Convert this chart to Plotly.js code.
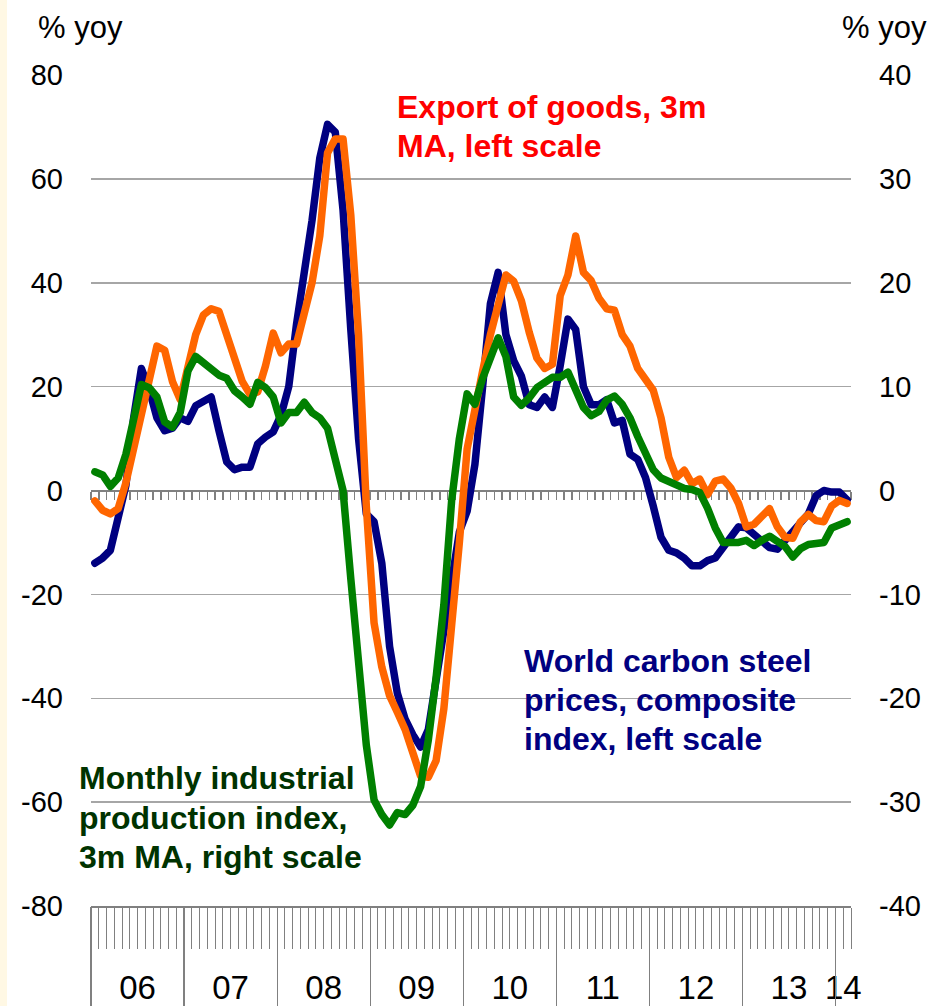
<!DOCTYPE html>
<html>
<head>
<meta charset="utf-8">
<script src="https://cdn.plot.ly/plotly-3.0.1.min.js"></script>
<style>
  html, body { margin: 0; padding: 0; background: #ffffff; }
  #chart { width: 932px; height: 1006px; }
  #strip { position: absolute; left: 0; top: 0; width: 7px; height: 1006px; background: #FFF8E4; z-index: 10; }
  .js-line { stroke-linejoin: round !important; stroke-linecap: round !important; }
</style>
</head>
<body>
<div id="strip"></div>
<div id="chart"></div>
<script>
// Monthly data, Jan 2006 .. Feb 2014
const yearLabels = ['06', '07', '08', '09', '10', '11', '12', '13', '14'];
const leftTicks = [-80, -60, -40, -20, 0, 20, 40, 60, 80];
const rightTicks = [-40, -30, -20, -10, 0, 10, 20, 30, 40];

// World carbon steel prices, composite index, % yoy (left scale)
const steelPrices = [
  -14, -13, -11.5, -5.5, 1, 14, 23.5, 19.5, 14, 11.5, 12, 14,
  13.3, 16.3, 17, 18, 11.5, 5.5, 4, 4.5, 4.5, 9, 10.3, 11.3,
  14.5, 20, 32, 41, 52, 64, 70.5, 69, 54, 31, 10, -4.5,
  -6, -14, -30, -39, -44, -47, -49.4, -46, -37, -28, -18, -8,
  -4, 5, 20, 36, 42, 30, 25, 22, 16.5, 16, 18, 16,
  24, 33, 31, 20, 16.5, 16.5, 17.5, 13, 13.5, 7, 6, 2.5,
  -3, -9, -11.5, -12, -13, -14.5, -14.5, -13.5, -13, -11, -9, -7,
  -7.2, -8.5, -9.5, -11, -11.3, -9.5, -8, -6, -4.5, -1, 0, -0.3,
  -0.3, -1.8
];

// Export of goods, 3m MA, % yoy (left scale)
const exportsGoods = [
  -2, -3.8, -4.5, -3.5, 1.5, 8.5, 15, 21, 27.8, 27, 21, 17.5,
  23.5, 30, 33.8, 35, 34.5, 30, 25.5, 21, 18.5, 19, 24, 30.3,
  26.5, 28.2, 28.2, 34.5, 40, 49, 65, 67.7, 67.7, 53, 30, -3,
  -25.5, -34, -39.5, -42.7, -46, -50.5, -55, -55.2, -52, -42, -27, -10,
  8, 16, 23, 30, 36, 41.5, 40.3, 36.5, 30.5, 25.5, 23.5, 24.3,
  37.5, 41.5, 49, 42, 40.4, 37, 35, 34.7, 30, 27.8, 23.5, 21.3,
  19.3, 14, 6.4, 2.5, 3.9, 1.3, 2.2, -0.8, 1.8, 2.2, 0.5, -2.5,
  -7, -6.5, -5, -3.5, -7, -9, -9.2, -6, -4.6, -5.8, -6, -3,
  -1.9, -2.5
];

// Monthly industrial production index, 3m MA, % yoy (right scale)
const industrialProd = [
  1.8, 1.5, 0.4, 1.2, 3.5, 6.8, 10.2, 9.9, 9, 6.6, 6.1, 7.5,
  11.5, 12.9, 12.3, 11.5, 11.1, 10.8, 9.6, 9, 8.3, 10.4, 9.9, 9,
  6.5, 7.5, 7.5, 8.5, 7.5, 7, 6, 3, 0, -8.5, -17.4, -24.5,
  -29.8, -31.2, -32.2, -31, -31.2, -30.3, -28.5, -24, -18, -11, -1, 5,
  9.3, 8.3, 10.8, 12.6, 14.7, 12.9, 9, 8.2, 8.9, 9.9, 10.3, 10.9,
  10.9, 11.4, 9.7, 8, 7.2, 7.6, 8.7, 9.1, 8.3, 7, 5.2, 3.4,
  2, 1.2, 0.8, 0.5, 0.2, 0.1, -0.2, -1.7, -3.6, -5, -5, -5,
  -4.8, -5.3, -4.8, -4.4, -4.9, -5.4, -6.4, -5.6, -5.2, -5.1, -5, -3.6,
  -3.3, -3
];

const nMonths = steelPrices.length;
// each month occupies one unit slot; points sit in the middle of their slot
const xs = steelPrices.map((_, i) => i + 0.5);
const xRange = [0, nMonths];

// year label positions: centre of that year's months
const yearTickVals = yearLabels.map((_, k) => {
  const idx = xs.filter((_, i) => Math.floor(i / 12) === k);
  return idx.reduce((a, b) => a + b, 0) / idx.length;
});
const yearBounds = yearLabels.map((_, k) => k * 12);

const GRID = '#A6A6A6';
const TICK = '#808080';
const FONT = 'Liberation Sans, Arial, sans-serif';
const LW = 7.5;

const traces = [
  { x: xs, y: steelPrices, xaxis: 'x', yaxis: 'y', type: 'scatter', mode: 'lines',
    line: { color: '#000080', width: LW }, name: 'World carbon steel prices' },
  { x: xs, y: exportsGoods, xaxis: 'x2', yaxis: 'y', type: 'scatter', mode: 'lines',
    line: { color: '#FF6600', width: LW }, name: 'Export of goods' },
  { x: xs, y: industrialProd, xaxis: 'x3', yaxis: 'y2', type: 'scatter', mode: 'lines',
    line: { color: '#008000', width: LW }, name: 'Industrial production' }
];

const W = 932, H = 1006, L = 91, R = 81, T = 75, B = 100;
const pw = W - L - R, ph = H - T - B;
const px = v => (v - L) / pw;
const py = v => (H - B - v) / ph;

function textLines(lines, x, ys, color) {
  return lines.map((t, i) => ({
    text: '<b>' + t + '</b>', xref: 'paper', yref: 'paper',
    x: px(x), y: py(ys[i]), xanchor: 'left', yanchor: 'middle', align: 'left',
    showarrow: false, font: { family: FONT, size: 32, color: color }
  }));
}

const layout = {
  width: W, height: H,
  margin: { l: L, r: R, t: T, b: B, pad: 0 },
  paper_bgcolor: '#ffffff', plot_bgcolor: '#ffffff',
  showlegend: false,
  font: { family: FONT, size: 29, color: '#000000' },
  xaxis: {
    range: xRange, fixedrange: true,
    tickmode: 'array', tickvals: yearTickVals, ticktext: yearLabels,
    ticks: '', ticklabelstandoff: 52,
    tickfont: { family: FONT, size: 33, color: '#000000' },
    minor: { tickmode: 'linear', tick0: 0, dtick: 1, ticks: 'outside', ticklen: 41, tickwidth: 1, tickcolor: TICK, showgrid: false },
    showgrid: false, zeroline: false,
    showline: true, linecolor: TICK, linewidth: 1.5,
    layer: 'below traces'
  },
  xaxis2: {
    overlaying: 'x', anchor: 'free', position: 0, side: 'bottom',
    range: xRange, fixedrange: true,
    tickmode: 'array', tickvals: yearBounds,
    ticks: 'outside', ticklen: 100, tickwidth: 1.2, tickcolor: TICK,
    showticklabels: false, showgrid: false, zeroline: false, showline: false,
    layer: 'below traces'
  },
  xaxis3: {
    overlaying: 'x', anchor: 'free', position: 0.5, side: 'bottom',
    range: xRange, fixedrange: true,
    tickmode: 'linear', tick0: 0, dtick: 1,
    ticks: 'outside', ticklen: 8, tickwidth: 1.5, tickcolor: TICK,
    showticklabels: false, showgrid: false, zeroline: false,
    showline: true, linecolor: TICK, linewidth: 2,
    layer: 'below traces'
  },
  yaxis: {
    range: [-80, 80], fixedrange: true,
    tickmode: 'array', tickvals: leftTicks, ticktext: leftTicks.map(v => String(v)),
    ticks: '', ticklabelstandoff: 27,
    tickfont: { family: FONT, size: 29, color: '#000000' },
    showgrid: true, gridcolor: GRID, gridwidth: 1.5,
    zeroline: false, showline: false,
    layer: 'below traces'
  },
  yaxis2: {
    overlaying: 'y', side: 'right', anchor: 'x',
    range: [-40, 40], fixedrange: true,
    tickmode: 'array', tickvals: rightTicks, ticktext: rightTicks.map(v => String(v)),
    ticks: '', ticklabelstandoff: 27,
    tickfont: { family: FONT, size: 29, color: '#000000' },
    showgrid: false, zeroline: false, showline: false,
    layer: 'below traces'
  },
  annotations: [
    { text: '% yoy', xref: 'paper', yref: 'paper', x: px(36), y: py(27), xanchor: 'left', yanchor: 'middle',
      showarrow: false, font: { family: FONT, size: 31, color: '#000000' } },
    { text: '% yoy', xref: 'paper', yref: 'paper', x: px(929), y: py(27), xanchor: 'right', yanchor: 'middle',
      showarrow: false, font: { family: FONT, size: 31, color: '#000000' } }
  ]
  .concat(textLines(['Export of goods, 3m', 'MA, left scale'], 395, [107, 145.5], '#FF0000'))
  .concat(textLines(['World carbon steel', 'prices, composite', 'index, left scale'], 522, [661, 700, 738.5], '#000080'))
  .concat(textLines(['Monthly industrial', 'production index,', '3m MA, right scale'], 77, [778, 818, 857], '#003300'))
};

Plotly.newPlot('chart', traces, layout, { displayModeBar: false, staticPlot: true });
</script>
</body>
</html>
